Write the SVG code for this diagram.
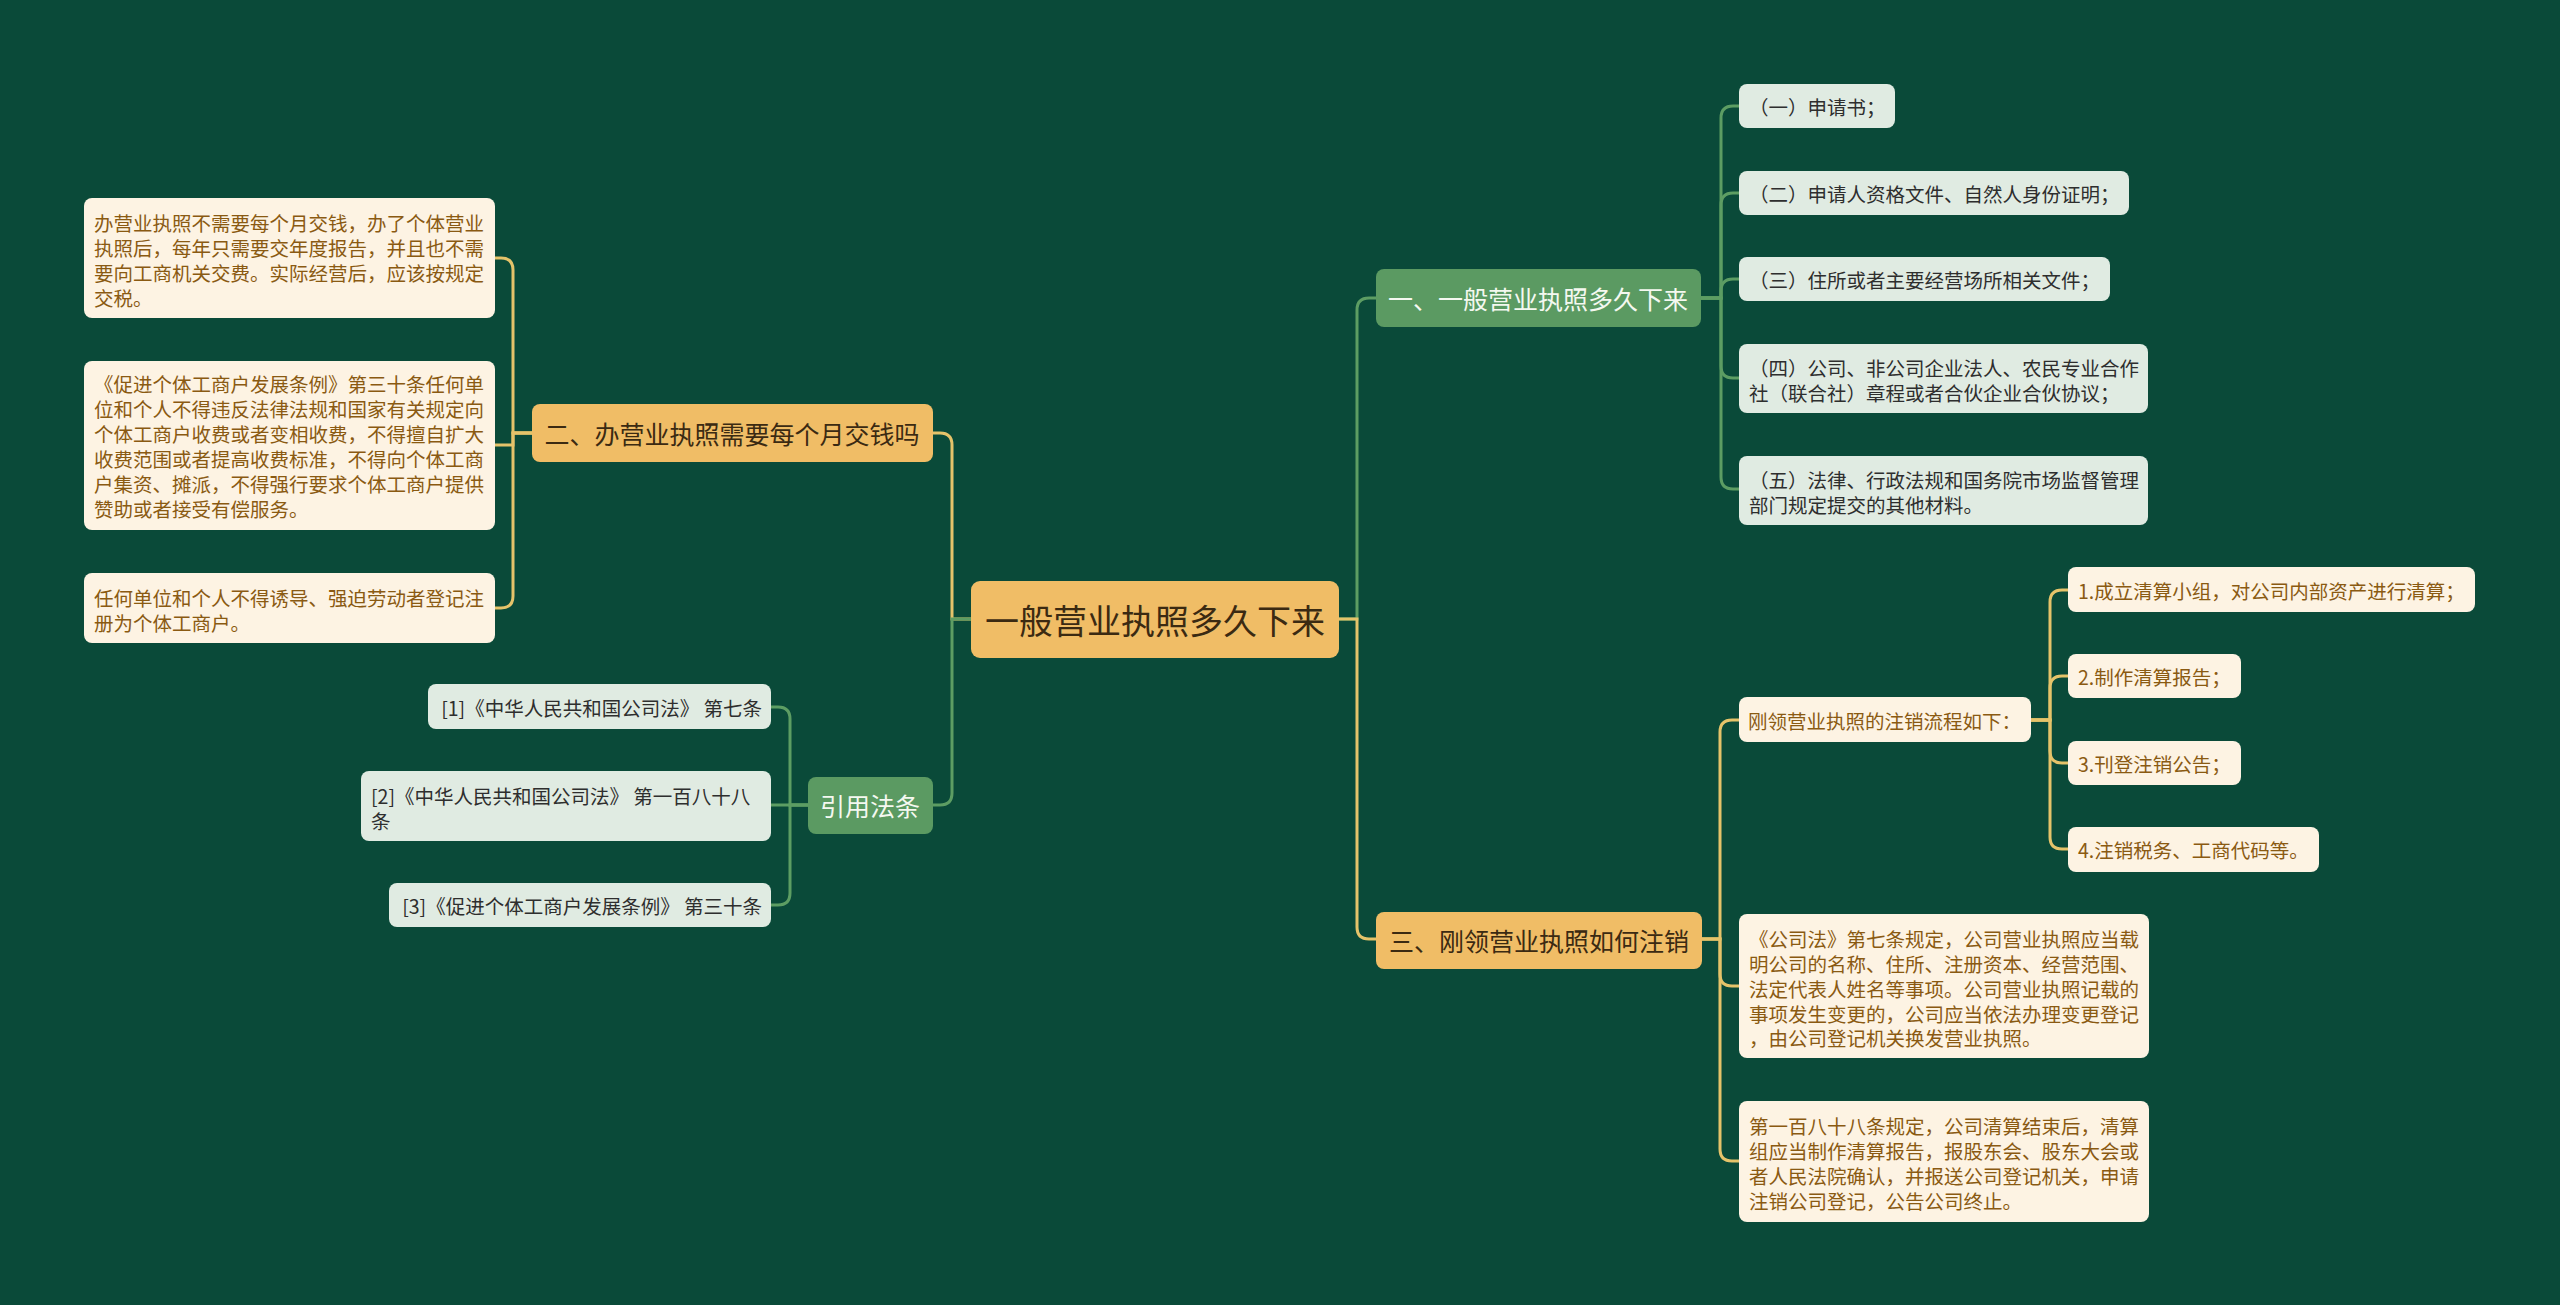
<svg xmlns="http://www.w3.org/2000/svg" width="2560" height="1305" viewBox="0 0 2560 1305">
<style>
text{font-family:"Noto Sans CJK SC","Noto Sans",sans-serif;dominant-baseline:central}
.bg{fill:#0a4a39}
.main{fill:#f0bd66}
.orange{fill:#f0bd66}
.green{fill:#5b9a62}
.beige{fill:#fdf3e3}
.lgreen{fill:#e0ebe2}
.tmain{font-size:34px;fill:#3b2a12;text-anchor:middle}
.tl1d{font-size:25px;fill:#3b2a12;text-anchor:middle}
.tl1g{font-size:25px;fill:#f4f8f0;text-anchor:middle}
.tb{font-size:19.5px;fill:#8a5a12}
.tg{font-size:19.5px;fill:#2e2e2e}
.cg{fill:none;stroke:#e5c36a;stroke-width:3}
.cgr{fill:none;stroke:#5d9d63;stroke-width:3}
</style>
<rect class="bg" x="0" y="0" width="2560" height="1305"/>
<g id="connectors">
<path class="cgr" d="M1339 619 H1357 V310 Q1357 298 1369 298 H1376"/>
<path class="cg" d="M1339 619 H1357 V927 Q1357 939 1369 939 H1376"/>
<path class="cg" d="M971 619 H952 V445 Q952 433 940 433 H933"/>
<path class="cgr" d="M971 619 H952 V793 Q952 805 940 805 H933"/>
<path class="cgr" d="M1701 298 H1721 V118 Q1721 106 1733 106 H1739"/>
<path class="cgr" d="M1701 298 H1721 V205 Q1721 193 1733 193 H1739"/>
<path class="cgr" d="M1701 298 H1721 V291 Q1721 279 1733 279 H1739"/>
<path class="cgr" d="M1701 298 H1721 V366 Q1721 378 1733 378 H1739"/>
<path class="cgr" d="M1701 298 H1721 V477 Q1721 489 1733 489 H1739"/>
<path class="cg" d="M1702 939 H1720 V732 Q1720 720 1732 720 H1739"/>
<path class="cg" d="M1702 939 H1720 V974 Q1720 986 1732 986 H1739"/>
<path class="cg" d="M1702 939 H1720 V1149 Q1720 1161 1732 1161 H1739"/>
<path class="cg" d="M2031 720 H2050 V602 Q2050 590 2062 590 H2068"/>
<path class="cg" d="M2031 720 H2050 V688 Q2050 676 2062 676 H2068"/>
<path class="cg" d="M2031 720 H2050 V751 Q2050 763 2062 763 H2068"/>
<path class="cg" d="M2031 720 H2050 V837 Q2050 849 2062 849 H2068"/>
<path class="cg" d="M532 433 H513 V270 Q513 258 501 258 H495"/>
<path class="cg" d="M532 433 H513 V445 Q513 445 501 445 H495"/>
<path class="cg" d="M532 433 H513 V596 Q513 608 501 608 H495"/>
<path class="cgr" d="M808 805 H790 V719 Q790 707 778 707 H771"/>
<path class="cgr" d="M808 805 H771"/>
<path class="cgr" d="M808 805 H790 V893 Q790 905 778 905 H771"/>
</g>
<g id="center"><rect class="main" x="971" y="581" width="368" height="77" rx="9"/><text class="tmain" x="1155" y="619">一般营业执照多久下来</text></g>
<g id="n2"><rect class="orange" x="532" y="404" width="401" height="58" rx="8"/><text class="tl1d" x="732" y="433">二、办营业执照需要每个月交钱吗</text></g>
<g id="ref"><rect class="green" x="808" y="777" width="125" height="57" rx="8"/><text class="tl1g" x="870" y="805">引用法条</text></g>
<g id="n1"><rect class="green" x="1376" y="269" width="325" height="58" rx="8"/><text class="tl1g" x="1538" y="298">一、一般营业执照多久下来</text></g>
<g id="n3"><rect class="orange" x="1376" y="912" width="326" height="57" rx="8"/><text class="tl1d" x="1539" y="940">三、刚领营业执照如何注销</text></g>
<g id="l1"><rect class="beige" x="84" y="198" width="411" height="120" rx="8"/><text class="tb" x="94" y="222">办营业执照不需要每个月交钱，办了个体营业</text><text class="tb" x="94" y="247">执照后，每年只需要交年度报告，并且也不需</text><text class="tb" x="94" y="272">要向工商机关交费。实际经营后，应该按规定</text><text class="tb" x="94" y="297">交税。</text></g>
<g id="l2"><rect class="beige" x="84" y="361" width="411" height="169" rx="8"/><text class="tb" x="94" y="383">《促进个体工商户发展条例》第三十条任何单</text><text class="tb" x="94" y="408">位和个人不得违反法律法规和国家有关规定向</text><text class="tb" x="94" y="433">个体工商户收费或者变相收费，不得擅自扩大</text><text class="tb" x="94" y="458">收费范围或者提高收费标准，不得向个体工商</text><text class="tb" x="94" y="483">户集资、摊派，不得强行要求个体工商户提供</text><text class="tb" x="94" y="508">赞助或者接受有偿服务。</text></g>
<g id="l3"><rect class="beige" x="84" y="573" width="411" height="70" rx="8"/><text class="tb" x="94" y="597">任何单位和个人不得诱导、强迫劳动者登记注</text><text class="tb" x="94" y="622">册为个体工商户。</text></g>
<g id="r1"><rect class="lgreen" x="428" y="684" width="343" height="45" rx="8"/><text class="tg" x="762" y="707" text-anchor="end">[1]《中华人民共和国公司法》 第七条</text></g>
<g id="r2"><rect class="lgreen" x="361" y="771" width="410" height="70" rx="8"/><text class="tg" x="371" y="795">[2]《中华人民共和国公司法》 第一百八十八</text><text class="tg" x="371" y="820">条</text></g>
<g id="r3"><rect class="lgreen" x="389" y="883" width="382" height="44" rx="8"/><text class="tg" x="762" y="905" text-anchor="end">[3]《促进个体工商户发展条例》 第三十条</text></g>
<g id="a1"><rect class="lgreen" x="1739" y="84" width="156" height="44" rx="8"/><text class="tg" x="1749" y="106">（一）申请书；</text></g>
<g id="a2"><rect class="lgreen" x="1739" y="171" width="390" height="44" rx="8"/><text class="tg" x="1749" y="193">（二）申请人资格文件、自然人身份证明；</text></g>
<g id="a3"><rect class="lgreen" x="1739" y="257" width="371" height="44" rx="8"/><text class="tg" x="1749" y="279">（三）住所或者主要经营场所相关文件；</text></g>
<g id="a4"><rect class="lgreen" x="1739" y="344" width="409" height="69" rx="8"/><text class="tg" x="1749" y="367">（四）公司、非公司企业法人、农民专业合作</text><text class="tg" x="1749" y="392">社（联合社）章程或者合伙企业合伙协议；</text></g>
<g id="a5"><rect class="lgreen" x="1739" y="456" width="409" height="69" rx="8"/><text class="tg" x="1749" y="479">（五）法律、行政法规和国务院市场监督管理</text><text class="tg" x="1749" y="504">部门规定提交的其他材料。</text></g>
<g id="c1"><rect class="beige" x="1739" y="697" width="292" height="45" rx="8"/><text class="tb" x="1748" y="720">刚领营业执照的注销流程如下：</text></g>
<g id="s1"><rect class="beige" x="2068" y="567" width="407" height="45" rx="8"/><text class="tb" x="2078" y="590">1.成立清算小组，对公司内部资产进行清算；</text></g>
<g id="s2"><rect class="beige" x="2068" y="654" width="173" height="44" rx="8"/><text class="tb" x="2078" y="676">2.制作清算报告；</text></g>
<g id="s3"><rect class="beige" x="2068" y="741" width="173" height="44" rx="8"/><text class="tb" x="2078" y="763">3.刊登注销公告；</text></g>
<g id="s4"><rect class="beige" x="2068" y="827" width="251" height="45" rx="8"/><text class="tb" x="2078" y="849">4.注销税务、工商代码等。</text></g>
<g id="c2"><rect class="beige" x="1739" y="914" width="410" height="144" rx="8"/><text class="tb" x="1749" y="938">《公司法》第七条规定，公司营业执照应当载</text><text class="tb" x="1749" y="963">明公司的名称、住所、注册资本、经营范围、</text><text class="tb" x="1749" y="988">法定代表人姓名等事项。公司营业执照记载的</text><text class="tb" x="1749" y="1013">事项发生变更的，公司应当依法办理变更登记</text><text class="tb" x="1749" y="1037">，由公司登记机关换发营业执照。</text></g>
<g id="c3"><rect class="beige" x="1739" y="1101" width="410" height="121" rx="8"/><text class="tb" x="1749" y="1125">第一百八十八条规定，公司清算结束后，清算</text><text class="tb" x="1749" y="1150">组应当制作清算报告，报股东会、股东大会或</text><text class="tb" x="1749" y="1175">者人民法院确认，并报送公司登记机关，申请</text><text class="tb" x="1749" y="1200">注销公司登记，公告公司终止。</text></g>
</svg>
